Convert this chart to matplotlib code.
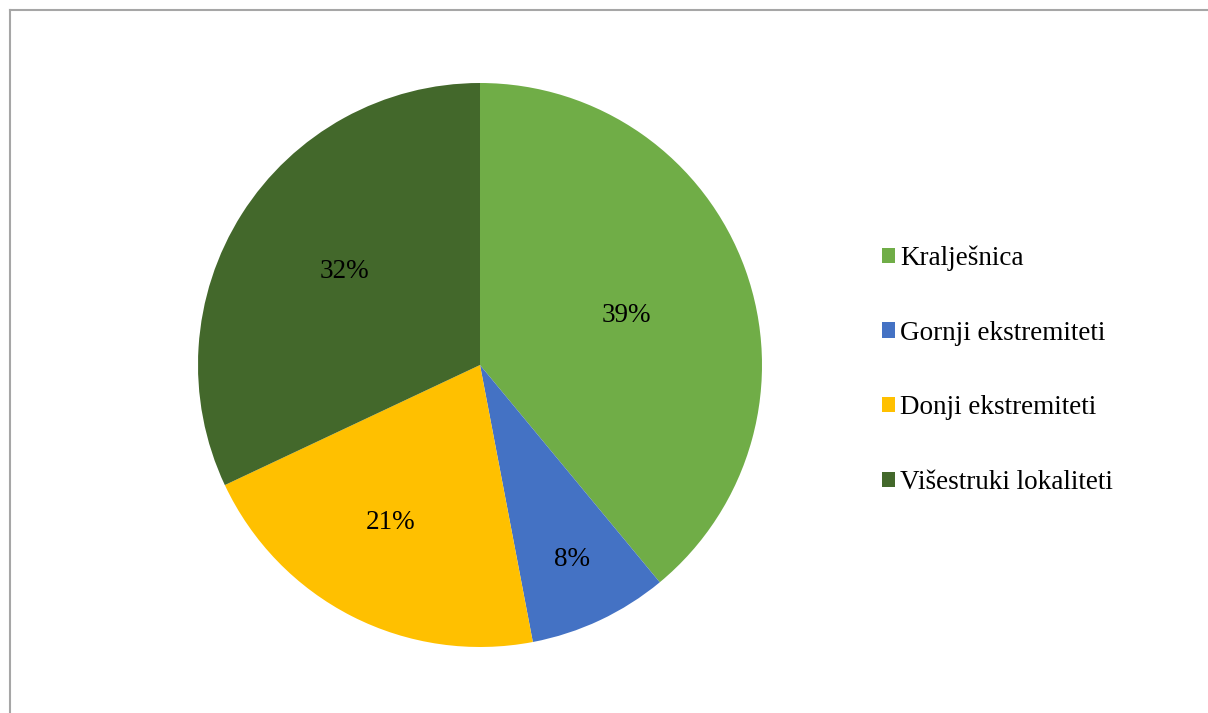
import numpy as np
import matplotlib.pyplot as plt

# data
labels = ['Kralješnica', 'Gornji ekstremiteti', 'Donji ekstremiteti', 'Višestruki lokaliteti']
shares = [39, 8, 21, 32]
colors = ['#70AD47', '#4472C4', '#FFC000', '#43682B']

# where each percent label sits: fraction of radius and small angle nudge (deg)
label_dist = [0.552, 0.755, 0.633, 0.59]
label_turn = [0, 0.5, -3, -3]

plt.rcParams['font.family'] = ['Liberation Serif', 'DejaVu Serif']

W, H = 1208, 713
fig = plt.figure(figsize=(W / 100, H / 100), dpi=100)

# pie centre (480, 365) px, radius 282 px
cx, cy, r = 480, 365, 282
ax = fig.add_axes([(cx - r) / W, (H - cy - r) / H, 2 * r / W, 2 * r / H])

wedges, texts, autotexts = ax.pie(shares, colors=colors, startangle=90, counterclock=False,
                                  autopct='%1.0f%%', pctdistance=0.55, radius=1,
                                  wedgeprops=dict(linewidth=0))
for w, t, d, a in zip(wedges, autotexts, label_dist, label_turn):
    ang = np.deg2rad((w.theta1 + w.theta2) / 2 + a)
    t.set_position((d * np.cos(ang), d * np.sin(ang)))
    t.set_fontsize(19.5)
    t.set_color('black')
    t.set_va('center_baseline')
ax.set_xlim(-1, 1)
ax.set_ylim(-1, 1)

# legend on the right
leg = fig.legend(wedges, labels, loc='upper left', bbox_to_anchor=(868 / W, 1 - 232 / H),
                 frameon=False, fontsize=19.5, handlelength=0.48, handleheight=0.48,
                 handletextpad=0.22, labelspacing=1.83, borderpad=0)

# thin grey border, only top and left visible in the crop
fig.add_artist(plt.Line2D([10 / W, 1], [1 - 10 / H, 1 - 10 / H], color='#A6A6A6', lw=1.5))
fig.add_artist(plt.Line2D([10 / W, 10 / W], [0, 1 - 10 / H], color='#A6A6A6', lw=1.5))

plt.savefig('out.png', dpi=100)
